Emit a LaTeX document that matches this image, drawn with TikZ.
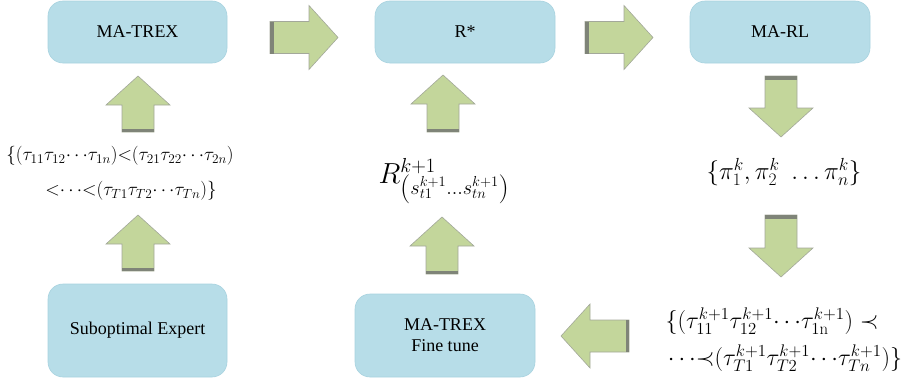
\RequirePackage{fix-cm}
\documentclass[tikz,border=0pt]{standalone}
\usepackage{fontspec}
\newfontfamily\boxfont{Liberation Serif}
\definecolor{boxblue}{HTML}{B7DDE8}
\definecolor{boxedge}{HTML}{A8D2DF}
\definecolor{arrowfill}{HTML}{C3D69B}
\definecolor{arrowline}{HTML}{A3A89A}
\definecolor{stripegray}{HTML}{7F8478}
\tikzset{
  procbox/.style={fill=boxblue, draw=boxedge, line width=0.6pt, rounded corners=15pt,
    font=\boxfont\fontsize{18}{21}\selectfont, align=center, inner sep=0pt},
  mathlbl/.style={inner sep=0pt, font=\fontsize{#1}{#1}\selectfont},
  arrowbody/.style={fill=arrowfill, draw=arrowline, line width=0.6pt},
  tailstripe/.style={draw=stripegray, line width=3.5pt},
}
\newcommand\blockarr[5]{% name, x, y (tail centre), angle, length
  \begin{scope}[shift={(#2,#3)}, rotate=#4]
    \path[arrowbody] (0,-16) -- ({#5-29},-16) -- ({#5-29},-32) -- (#5,0)
      -- ({#5-29},32) -- ({#5-29},16) -- (0,16) -- cycle;
    \coordinate (#1) at ({#5/2},0);
    \draw[tailstripe] (1.75,-16) -- (1.75,16);
  \end{scope}}
\begin{document}
\begin{tikzpicture}[x=1pt, y=-1pt]
\useasboundingbox (0,0) rectangle (912,380);
% boxes
\node[procbox, minimum width=179pt, minimum height=62pt] (trex) at (137.5,32) {MA-TREX};
\node[procbox, minimum width=180pt, minimum height=62pt] (rstar) at (465,32) {R*};
\node[procbox, minimum width=180pt, minimum height=62pt] (marl) at (780,32) {MA-RL};
\node[procbox, minimum width=179pt, minimum height=93pt] (subopt) at (137.5,330.5) {Suboptimal Expert};
\node[procbox, minimum width=180pt, minimum height=83pt] (fine) at (445,335.5) {MA-TREX\\Fine tune};
% texts
\node[mathlbl=19] (tau1) at (120,156) {$\{(\tau_{11}\tau_{12}{\cdots}\tau_{1n}){<}(\tau_{21}\tau_{22}{\cdots}\tau_{2n})$};
\node[mathlbl=19] (tau2) at (131,191) {${<}{\cdots}{<}(\tau_{T1}\tau_{T2}{\cdots}\tau_{Tn})\}$};
\node[mathlbl=29] (rew) at (444,181) {$R^{k+1}_{\left(s^{k+1}_{t1}{\ldots}s^{k+1}_{tn}\right)}$};
\node[mathlbl=25] (pol) at (784,172) {$\{\pi^k_1,\pi^k_2\ \ldots\pi^k_n\}$};
\node[mathlbl=24] (trj1) at (772,321) {$\{(\tau^{k+1}_{11}\tau^{k+1}_{12}{\cdots}\tau^{k+1}_{1\mathrm{n}})\prec$};
\node[mathlbl=24] (trj2) at (785,358) {${\cdots}{\prec}(\tau^{k+1}_{T1}\tau^{k+1}_{T2}{\cdots}\tau^{k+1}_{Tn})\}$};
% block arrows
\blockarr{a1}{270}{37.5}{0}{68}
\blockarr{a2}{585}{37.5}{0}{68}
\blockarr{a3}{138}{132}{90}{56}
\blockarr{a4}{138}{271}{90}{56}
\blockarr{a5}{443}{132}{90}{57}
\blockarr{a6}{442}{274}{90}{57}
\blockarr{a7}{781}{76}{-90}{61}
\blockarr{a8}{781}{215}{-90}{62}
\blockarr{a9}{629}{336}{180}{68}
\end{tikzpicture}
\end{document}
